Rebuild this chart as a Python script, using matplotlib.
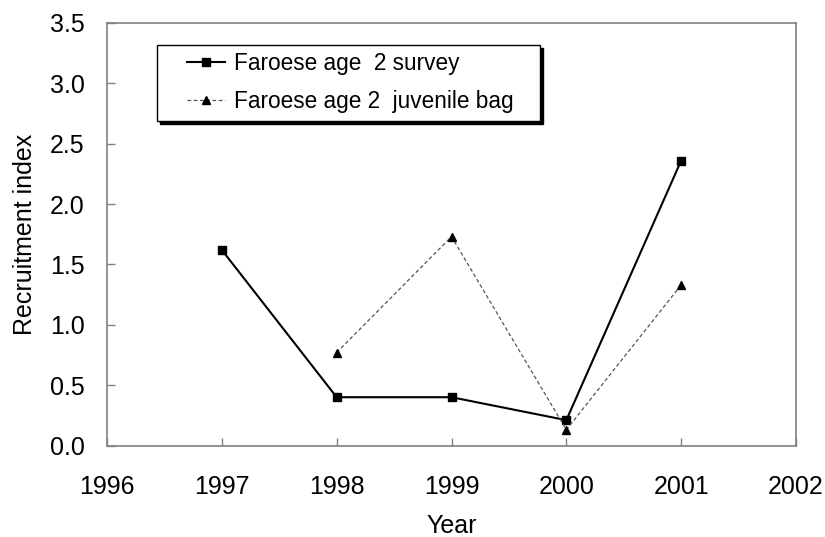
import matplotlib.pyplot as plt
from matplotlib.patches import Rectangle

plt.rcParams['font.family'] = ['Liberation Sans', 'DejaVu Sans']

# Data
years_survey = [1997, 1998, 1999, 2000, 2001]
survey = [1.62, 0.40, 0.40, 0.21, 2.36]

years_bag = [1998, 1999, 2000, 2001]
juvenile_bag = [0.77, 1.73, 0.13, 1.33]

xticks = [1996, 1997, 1998, 1999, 2000, 2001, 2002]
yticks = [0.0, 0.5, 1.0, 1.5, 2.0, 2.5, 3.0, 3.5]

W, H = 825, 537
fig = plt.figure(figsize=(W / 100, H / 100), dpi=100)
ax = fig.add_axes([107 / W, 1 - 445.5 / H, 689 / W, 422.5 / H])

ax.plot(years_survey, survey, color='black', lw=1.5, marker='s', ms=6,
        label='Faroese age  2 survey')
ax.plot(years_bag, juvenile_bag, color='#555555', lw=0.9, ls=(0, (3, 2)),
        marker='^', ms=6, mfc='black', mec='black',
        label='Faroese age 2  juvenile bag')

ax.set_xlim(1996, 2002)
ax.set_ylim(0, 3.5)
ax.set_xticks(xticks)
ax.set_yticks(yticks)
ax.set_yticklabels([f'{v:.1f}' for v in yticks])

for s in ax.spines.values():
    s.set_color('#808080')
    s.set_linewidth(1.2)
ax.tick_params(direction='in', length=6, width=1, color='#808080',
               labelsize=18)
ax.tick_params(axis='y', pad=16)
ax.tick_params(axis='x', pad=21)

ax.set_xlabel('Year', fontsize=18, labelpad=11)
ax.set_ylabel('Recruitment index', fontsize=18, labelpad=9)

# legend box with a hard black shadow, drawn in figure pixels
bx, by, bw, bh = 157, 45, 383, 76
ax.add_patch(Rectangle(((bx + 2.5) / W, 1 - (by + bh + 2.5) / H), bw / W, bh / H,
                       transform=fig.transFigure, facecolor='black',
                       edgecolor='black', zorder=5, clip_on=False))
ax.add_patch(Rectangle((bx / W, 1 - (by + bh) / H), bw / W, bh / H,
                       transform=fig.transFigure, facecolor='white',
                       edgecolor='black', lw=1.0, zorder=6, clip_on=False))

leg = ax.legend(loc='upper left', bbox_to_anchor=(187 / W, 1 - 52 / H),
                bbox_transform=fig.transFigure, borderaxespad=0, borderpad=0,
                fontsize=16.3, frameon=False,
                handlelength=1.7, handletextpad=0.36, labelspacing=0.68)
leg.set_zorder(7)

fig.savefig('out.png', dpi=100)
